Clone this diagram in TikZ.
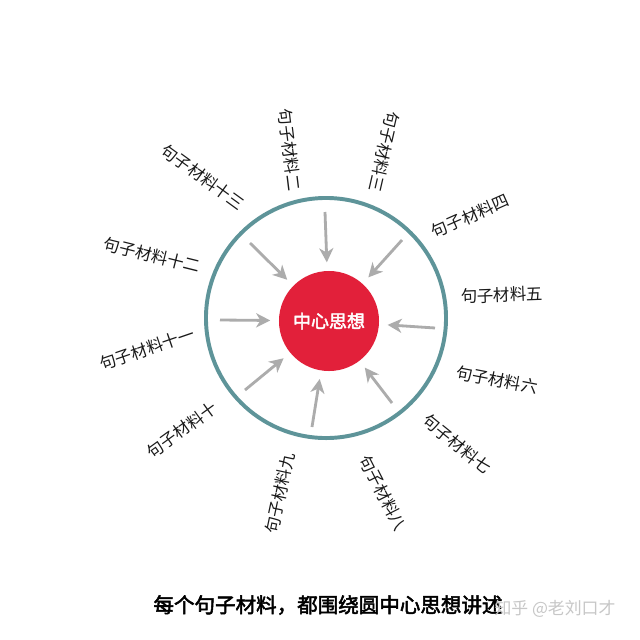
\documentclass[tikz,border=0pt]{standalone}
\usepackage{fontspec}
\newfontfamily\cjk{Noto Sans CJK SC}
\newfontfamily\cjkbold[FakeBold=2.5]{Noto Sans CJK SC}
\usetikzlibrary{arrows.meta}
\definecolor{ringteal}{RGB}{94,148,153}
\definecolor{ideared}{RGB}{226,32,58}
\definecolor{arrowgray}{RGB}{172,172,172}

\begin{document}
\begin{tikzpicture}[
			x=0.025cm, y=-0.025cm,
			labelnode/.style={font=\cjk\fontsize{11.7}{12}\selectfont, text=black!90, inner sep=0pt},
			ideanode/.style={circle, fill=ideared, minimum size=2.5cm, inner sep=0pt, text=white, font=\cjkbold\fontsize{12.8}{13}\selectfont},
			ringnode/.style={circle, draw=ringteal, line width=2.8pt, minimum size=6cm, inner sep=0pt},
			inarrow/.style={draw=arrowgray, line width=2pt, -{Stealth[length=10pt, width=10pt, inset=3pt]}, shorten >=6pt},
		]
		
			\useasboundingbox[fill=white] (0,0) rectangle (640,640);
		
			%Nodes
			\node[ringnode]	(ring)	at (326,318)	{};
			\node[ideanode]	(idea)	at (329,321)	{中心思想};
		
			\node[labelnode, rotate=-83]	(l2)	at (290,150)	{句子材料二};
			\node[labelnode, rotate=-103]	(l3)	at (384,152)	{句子材料三};
			\node[labelnode, rotate=24]		(l4)	at (470,216)	{句子材料四};
			\node[labelnode, rotate=2]		(l5)	at (502,295)	{句子材料五};
			\node[labelnode, rotate=-11]	(l6)	at (497,380)	{句子材料六};
			\node[labelnode, rotate=-39]	(l7)	at (457,444)	{句子材料七};
			\node[labelnode, rotate=-63]	(l8)	at (383,493)	{句子材料八};
			\node[labelnode, rotate=78]		(l9)	at (280,493)	{句子材料九};
			\node[labelnode, rotate=36]		(l10)	at (182,430)	{句子材料十};
			\node[labelnode, rotate=19]		(l11)	at (147,349)	{句子材料十一};
			\node[labelnode, rotate=-14]	(l12)	at (152,255)	{句子材料十二};
			\node[labelnode, rotate=-36]	(l13)	at (203,177)	{句子材料十三};
		
			\node[font=\cjkbold\fontsize{14.6}{15}\selectfont]	(caption)	at (328,605)	{每个句子材料，都围绕圆中心思想讲述};
			\node[font=\cjk\fontsize{12}{13}\selectfont, text=black!22]	(mark)	at (555,609)	{知乎 @老刘口才};
		
			%Arrow tails
			\coordinate	(t1)	at (325,212);
			\coordinate	(t2)	at (402,240);
			\coordinate	(t3)	at (435,328);
			\coordinate	(t4)	at (392,403);
			\coordinate	(t5)	at (312,427);
			\coordinate	(t6)	at (245,390);
			\coordinate	(t7)	at (220,320);
			\coordinate	(t8)	at (250,243);
		
			%Lines
			\draw[inarrow]	(t1) -- (idea);
			\draw[inarrow]	(t2) -- (idea);
			\draw[inarrow]	(t3) -- (idea);
			\draw[inarrow]	(t4) -- (idea);
			\draw[inarrow]	(t5) -- (idea);
			\draw[inarrow]	(t6) -- (idea);
			\draw[inarrow]	(t7) -- (idea);
			\draw[inarrow]	(t8) -- (idea);
		
		\end{tikzpicture}
\end{document}
